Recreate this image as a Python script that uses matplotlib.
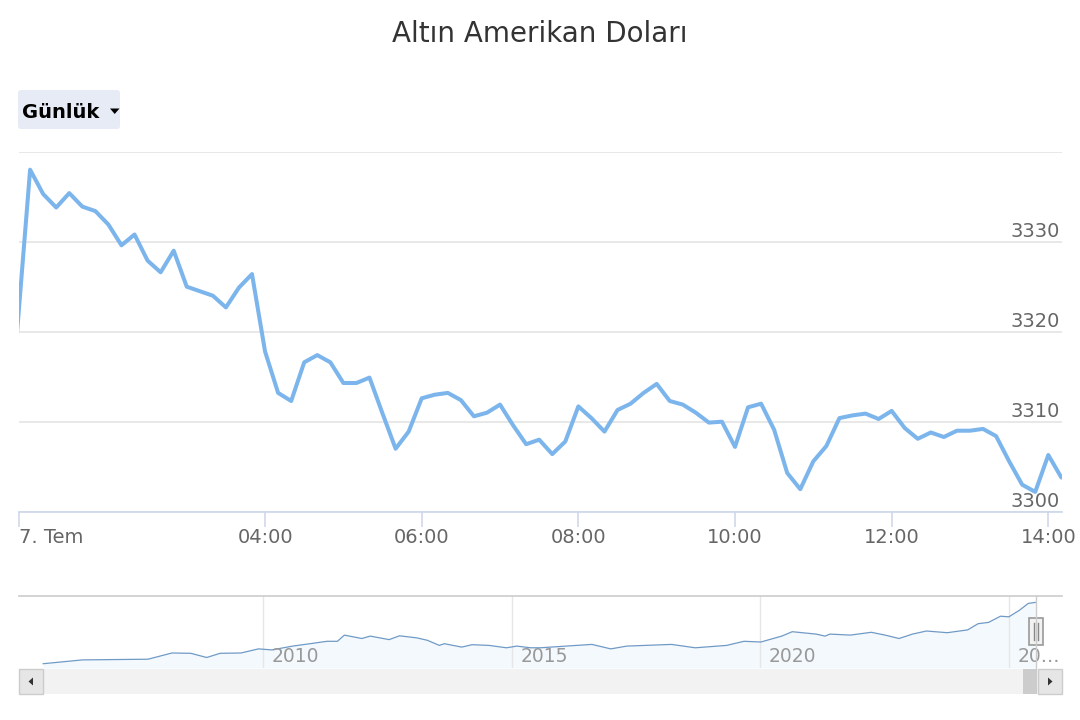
import matplotlib
matplotlib.use('Agg')
import matplotlib.pyplot as plt
import matplotlib.dates as mdates
from matplotlib.patches import Rectangle, FancyBboxPatch, Polygon
import pandas as pd
from datetime import datetime

plt.rcParams['font.family'] = ['DejaVu Sans']

TITLE = 'Altın Amerikan Doları'
RANGE_BTN = 'Günlük'

# 10 dakikalık fiyatlar, 7 Temmuz 00:50 - 14:10
start = '2025-07-07 00:50'
prices = [3319.9, 3338.0, 3335.3, 3333.8, 3335.4, 3333.9, 3333.4, 3331.9, 3329.6, 3330.8,
          3327.9, 3326.6, 3329.0, 3325.0, 3324.5, 3324.0, 3322.7, 3324.9, 3326.4, 3317.8,
          3313.2, 3312.3, 3316.6, 3317.4, 3316.6, 3314.3, 3314.3, 3314.9, 3310.9, 3307.0,
          3308.9, 3312.6, 3313.0, 3313.2, 3312.4, 3310.6, 3311.0, 3311.9, 3309.6, 3307.5,
          3308.0, 3306.4, 3307.8, 3311.7, 3310.4, 3308.9, 3311.3, 3312.0, 3313.2, 3314.2,
          3312.3, 3311.9, 3311.0, 3309.9, 3310.0, 3307.2, 3311.6, 3312.0, 3309.1, 3304.3,
          3302.5, 3305.6, 3307.3, 3310.4, 3310.7, 3310.9, 3310.3, 3311.2, 3309.3, 3308.1,
          3308.8, 3308.3, 3309.0, 3309.0, 3309.2, 3308.4, 3305.6, 3303.0, 3302.2, 3306.3,
          3303.8]
times = pd.date_range(start, periods=len(prices), freq='10min').to_pydatetime()

x_tick_labels = ['04:00', '06:00', '08:00', '10:00', '12:00', '14:00']
day_label = '7. Tem'
y_labels = [3300, 3310, 3320, 3330]
y_grid = [3300, 3310, 3320, 3330, 3340]

# navigator (uzun vadeli seri)
nav_years = [2005.57, 2006.36, 2007.68, 2008.16, 2008.54, 2008.86, 2009.13, 2009.55, 2009.90, 2010.17,
             2010.59, 2010.94, 2011.28, 2011.49, 2011.63, 2011.98, 2012.15, 2012.53, 2012.74, 2013.09,
             2013.30, 2013.54, 2013.64, 2013.99, 2014.20, 2014.54, 2014.89, 2015.10, 2015.38, 2015.57,
             2016.61, 2016.99, 2017.31, 2018.21, 2018.69, 2019.32, 2019.67, 2020.01, 2020.43, 2020.64,
             2021.12, 2021.30, 2021.40, 2021.81, 2022.23, 2022.51, 2022.79, 2023.06, 2023.34, 2023.76,
             2024.17, 2024.38, 2024.59, 2024.83, 2025.00, 2025.21, 2025.39, 2025.53]
nav_prices = [430, 610, 643, 937, 922, 724, 922, 937, 1131, 1083,
              1263, 1377, 1490, 1490, 1783, 1622, 1736, 1570, 1750, 1651,
              1537, 1296, 1377, 1216, 1329, 1296, 1183, 1263, 1183, 1183,
              1343, 1131, 1263, 1343, 1183, 1296, 1490, 1457, 1736, 1944,
              1831, 1736, 1831, 1783, 1916, 1783, 1622, 1831, 1977, 1897,
              2029, 2323, 2384, 2677, 2649, 2956, 3283, 3330]
nav_ticks = [2010, 2015, 2020, 2025]
nav_tick_labels = ['2010', '2015', '2020', '20…']

W, H = 1080, 720
fig = plt.figure(figsize=(W / 100, H / 100), dpi=100)
fig.patch.set_facecolor('white')

# ana grafik
ax = fig.add_axes([19 / W, 1 - 511.7 / H, 1043 / W, 360 / H])
ax.plot(times, prices, color='#7cb5ec', lw=2.9, solid_joinstyle='round', solid_capstyle='round', zorder=3)
ax.set_xlim(datetime(2025, 7, 7, 0, 51, 30), datetime(2025, 7, 7, 14, 10, 30))
ax.set_ylim(3300, 3340)
for s in ['top', 'left', 'right']:
    ax.spines[s].set_visible(False)
ax.spines['bottom'].set_color('#ccd6eb')
ax.spines['bottom'].set_linewidth(1.2)
ax.set_yticks(y_grid)
ax.tick_params(axis='y', length=0, labelleft=False)
ax.grid(axis='y', color='#e6e6e6', lw=1.3, zorder=0)
for v in y_labels:
    ax.annotate(str(v), xy=(1, v), xycoords=('axes fraction', 'data'), xytext=(-1.5, 3.6),
                textcoords='offset points', ha='right', va='baseline', fontsize=14, color='#666666')

tick_pos = [ax.get_xlim()[0]] + [mdates.date2num(datetime.strptime('2025-07-07 ' + t, '%Y-%m-%d %H:%M'))
                                 for t in x_tick_labels]
ax.set_xticks(tick_pos)
ax.set_xticklabels([day_label] + x_tick_labels)
ax.tick_params(axis='x', length=10.8, width=1.1, color='#ccd6eb', pad=1, labelsize=14, labelcolor='#666666')
ax.get_xticklabels()[0].set_horizontalalignment('left')

# navigator
nav = fig.add_axes([19 / W, 1 - 668 / H, 1043 / W, 72 / H])
nav.fill_between(nav_years, nav_prices, 227, color='#7cb5ec', alpha=0.08, lw=0)
nav.plot(nav_years, nav_prices, color='#6f9ac6', lw=0.9)
nav.set_xlim(2005.083, 2026.068)
nav.set_ylim(227, 3633)
nav.set_xticks(nav_ticks)
nav.set_yticks([])
nav.tick_params(axis='x', length=0, labelbottom=False)
nav.grid(axis='x', color='#e6e6e6', lw=1)
for s in ['left', 'right', 'bottom']:
    nav.spines[s].set_visible(False)
nav.spines['top'].set_color('#cccccc')
nav.spines['top'].set_linewidth(1.2)
for yr, lab in zip(nav_ticks, nav_tick_labels):
    nav.annotate(lab, xy=(yr, 0), xycoords=('data', 'axes fraction'), xytext=(6, 4),
                 textcoords='offset points', ha='left', va='baseline', fontsize=13.5, color='#999999')

# başlık, buton, kaydırma çubuğu
ui = fig.add_axes([0, 0, 1, 1])
ui.set_xlim(0, W)
ui.set_ylim(H, 0)
ui.axis('off')
ui.text(540, 41.7, TITLE, ha='center', va='baseline', fontsize=20, color='#333333')

ui.add_patch(FancyBboxPatch((18, 90), 102, 39, boxstyle='round,pad=0,rounding_size=3',
                            fc='#e6ebf5', ec='none'))
ui.text(22, 118, RANGE_BTN, ha='left', va='baseline', fontsize=14, fontweight='bold', color='black')
ui.add_patch(Polygon([(110, 108.5), (119.5, 108.5), (114.7, 114)], closed=True, fc='black', ec='none'))

# navigator seçim kenarı ve tutamak
ui.plot([1035.7, 1035.7], [596, 668], color='#cccccc', lw=1)
ui.add_patch(Rectangle((1029, 618), 13.7, 27, fc='#f2f2f2', ec='#999999', lw=1.2))
ui.plot([1034.4, 1034.4], [623, 640], color='#888888', lw=1)
ui.plot([1037.6, 1037.6], [623, 640], color='#888888', lw=1)

ui.add_patch(Rectangle((19, 669), 1043, 25, fc='#f2f2f2', ec='none'))
ui.add_patch(Rectangle((1023, 669), 14, 25, fc='#cccccc', ec='none'))
ui.add_patch(Rectangle((19, 669), 24, 25, fc='#e6e6e6', ec='#cccccc', lw=1))
ui.add_patch(Rectangle((1037.5, 669), 24.5, 25, fc='#e6e6e6', ec='#cccccc', lw=1))
ui.add_patch(Polygon([(28.5, 681.5), (33, 677.5), (33, 685.5)], closed=True, fc='#333333', ec='none'))
ui.add_patch(Polygon([(1052.5, 681.5), (1048, 677.5), (1048, 685.5)], closed=True, fc='#333333', ec='none'))

fig.savefig('out.png', dpi=100, facecolor='white')
